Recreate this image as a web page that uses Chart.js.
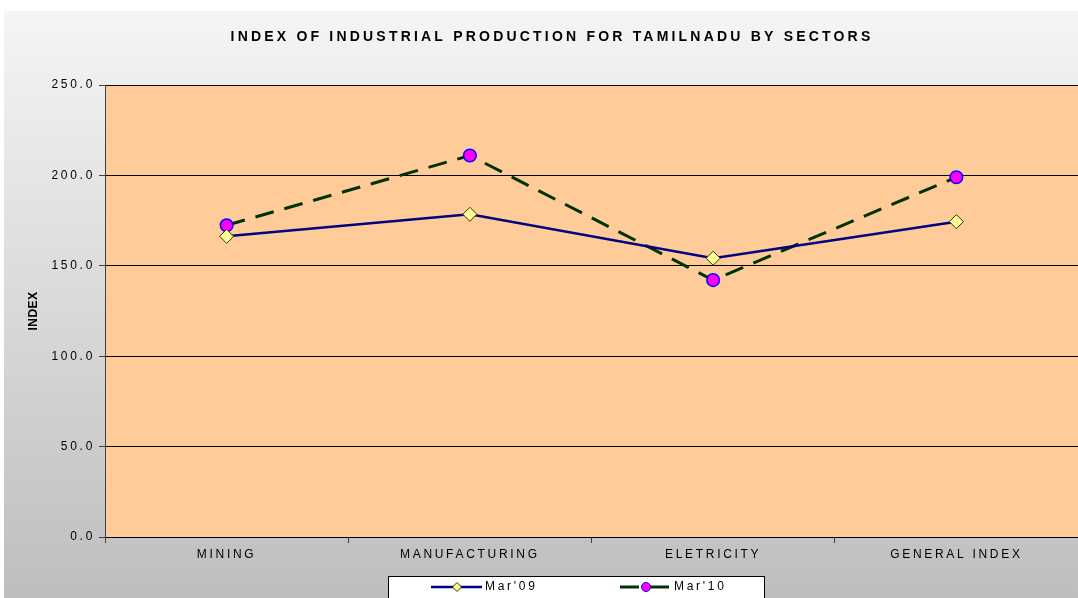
<!DOCTYPE html>
<html>
<head>
<meta charset="utf-8">
<title>Index of Industrial Production for Tamilnadu</title>
<script src="https://cdn.jsdelivr.net/npm/chart.js@4.4.1/dist/chart.umd.min.js"></script>
<style>
  html, body { margin: 0; padding: 0; background: #fff; }
  canvas { display: block; }
</style>
</head>
<body>
<canvas id="iipChart" width="1078" height="598"></canvas>
<script>
const chartTitle = "INDEX OF INDUSTRIAL PRODUCTION FOR TAMILNADU BY SECTORS";
const yTitle = "INDEX";
const sectors = ["MINING", "MANUFACTURING", "ELETRICITY", "GENERAL INDEX"];
const mar09 = [166.3, 178.5, 154.2, 174.4];
const mar10 = [172.4, 211.0, 142.1, 199.0];
const yTicks = [0, 50, 100, 150, 200, 250];

const FONT = "'Liberation Sans', Arial, sans-serif";
Chart.defaults.font.family = FONT;

// background, plot fill, titles and the boxed legend at the bottom
const frame = {
  id: "frame",
  beforeDraw(chart) {
    const { ctx, width, height, chartArea: a } = chart;
    ctx.save();
    ctx.fillStyle = "#ffffff";
    ctx.fillRect(0, 0, width, height);
    const g = ctx.createLinearGradient(0, 11, 0, height);
    g.addColorStop(0, "#f5f5f5");
    g.addColorStop(1, "#bebebe");
    ctx.fillStyle = g;
    ctx.fillRect(4, 11, width - 4, height - 11);
    ctx.fillStyle = "#ffcc99";
    ctx.fillRect(a.left, a.top, a.right - a.left, a.bottom - a.top);
    ctx.restore();
    ctx.letterSpacing = "2.7px"; // tick labels are spaced out
  },
  afterDraw(chart) {
    const ctx = chart.ctx;
    ctx.save();
    ctx.fillStyle = "#000";

    // chart title
    ctx.letterSpacing = "3.2px";
    ctx.font = "bold 14px " + FONT;
    ctx.textAlign = "center";
    ctx.textBaseline = "middle";
    ctx.fillText(chartTitle, 552, 37);

    // y axis title
    ctx.letterSpacing = "0.5px";
    ctx.save();
    ctx.translate(34, 311);
    ctx.rotate(-Math.PI / 2);
    ctx.font = "bold 12px " + FONT;
    ctx.fillText(yTitle, 0, 0);
    ctx.restore();

    // legend box
    ctx.fillStyle = "#ffffff";
    ctx.fillRect(388, 576, 377, 30);
    ctx.strokeStyle = "#000";
    ctx.lineWidth = 1;
    ctx.strokeRect(388.5, 576.5, 376, 30);
    const starts = [431, 620];
    const y = 587;
    chart.data.datasets.forEach((ds, i) => {
      const x0 = starts[i];
      ctx.strokeStyle = ds.borderColor;
      ctx.lineWidth = ds.borderWidth;
      ctx.setLineDash(ds.borderDash || []);
      ctx.beginPath();
      ctx.moveTo(x0, y);
      ctx.lineTo(x0 + 51, y);
      ctx.stroke();
      ctx.setLineDash([]);
      ctx.fillStyle = ds.pointBackgroundColor;
      ctx.strokeStyle = ds.pointBorderColor;
      ctx.lineWidth = 1;
      Chart.helpers.drawPoint(ctx, {
        pointStyle: ds.pointStyle,
        radius: 4.5,
        rotation: 0,
        borderWidth: 1
      }, x0 + 26, y);
      ctx.letterSpacing = "2.7px";
      ctx.font = "12px " + FONT;
      ctx.fillStyle = "#000";
      ctx.textAlign = "left";
      ctx.textBaseline = "middle";
      ctx.fillText(ds.label, x0 + 54, y);
    });
    ctx.restore();
    ctx.letterSpacing = "0px";
  }
};

new Chart(document.getElementById("iipChart"), {
  type: "line",
  data: {
    labels: sectors,
    datasets: [
      {
        label: "Mar'09",
        data: mar09,
        borderColor: "#000080",
        borderWidth: 2.5,
        tension: 0,
        pointStyle: "rectRot",
        pointRadius: 7,
        pointBackgroundColor: "#ffff99",
        pointBorderColor: "#333300",
        pointBorderWidth: 1
      },
      {
        label: "Mar'10",
        data: mar10,
        borderColor: "#003300",
        borderWidth: 3,
        borderDash: [19, 11],
        tension: 0,
        pointStyle: "circle",
        pointRadius: 6.3,
        pointBackgroundColor: "#ff00ff",
        pointBorderColor: "#0000ff",
        pointBorderWidth: 1.5
      }
    ]
  },
  options: {
    responsive: false,
    animation: false,
    layout: { autoPadding: false, padding: { left: 4, top: 85, right: 0, bottom: 31 } },
    plugins: {
      legend: { display: false },
      tooltip: { enabled: false },
      title: { display: false }
    },
    scales: {
      x: {
        offset: true,
        grid: { offset: true, drawOnChartArea: false, tickLength: 6, tickColor: "#404040" },
        border: { color: "#000" },
        ticks: { color: "#000", font: { size: 12 }, padding: 4, maxRotation: 0 },
        afterFit: (s) => {
          s.height = 30;
          s.paddingLeft = 0;
          s.paddingRight = 0;
        }
      },
      y: {
        min: 0,
        max: 250,
        afterBuildTicks: (s) => { s.ticks = yTicks.map((v) => ({ value: v })); },
        grid: { color: "#000", tickLength: 6, tickColor: "#404040" },
        border: { color: "#404040" },
        ticks: { color: "#000", font: { size: 12 }, padding: 4, callback: (v) => v.toFixed(1) },
        afterFit: (s) => {
          s.width = 101;
          s.paddingTop = 0;
          s.paddingBottom = 0;
        }
      }
    }
  },
  plugins: [frame]
});
</script>
</body>
</html>
